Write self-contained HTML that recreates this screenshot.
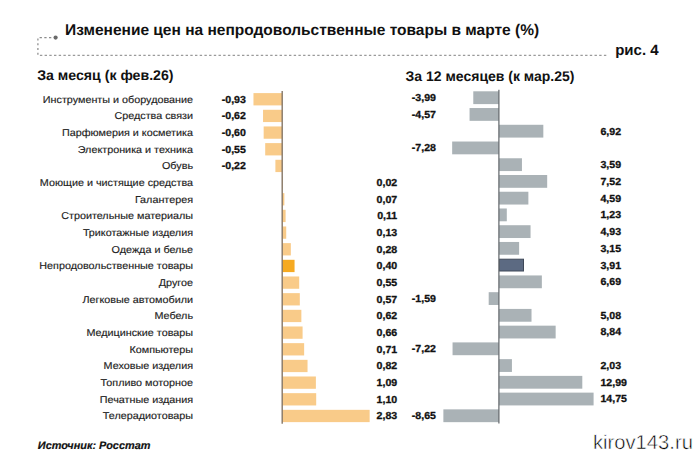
<!DOCTYPE html>
<html><head><meta charset="utf-8"><style>
html,body{margin:0;padding:0;background:#fff;}
body{width:700px;height:456px;overflow:hidden;}
svg{display:block;font-family:"Liberation Sans",sans-serif;text-rendering:geometricPrecision;}
</style></head><body>

<svg width="700" height="456" viewBox="0 0 700 456">
<g stroke="#9a9a9a" stroke-width="1.25" fill="none">
<path d="M39.6 37.6 H52.5" stroke-dasharray="2.3 2.4" stroke="#8c8c8c"/>
<path d="M37.9 38.4 V55.2" stroke-dasharray="2.2 2.55" stroke="#8c8c8c"/>
<path d="M39.9 55.3 H606.7" stroke-dasharray="2.4 2.3"/>
</g>
<circle cx="55.6" cy="37.6" r="2.1" fill="#6a6a6a"/>
<text x="65.0" y="35.4" font-size="15.5" font-weight="bold" fill="#111">Изменение цен на непродовольственные товары в марте (%)</text>
<text x="615.2" y="55.2" font-size="15" font-weight="bold" fill="#111">рис. 4</text>
<text x="37.2" y="80" font-size="14.15" font-weight="bold" fill="#111">За месяц (к фев.26)</text>
<text x="405.6" y="80.6" font-size="14" font-weight="bold" fill="#111">За 12 месяцев (к мар.25)</text>
<text transform="translate(193.00 102.70) scale(1.078 1)" text-anchor="end" font-size="10.0" font-weight="normal" fill="#222" stroke="#222" stroke-width="0.15">Инструменты и оборудование</text>
<rect x="253.46" y="93.10" width="28.74" height="12.3" fill="#f9cb89"/>
<text transform="translate(245.90 102.70) scale(1.04 1)" text-anchor="end" font-size="10.2" font-weight="bold" fill="#111" stroke="#111" stroke-width="0.3">-0,93</text>
<rect x="473.28" y="91.30" width="25.62" height="12.8" fill="#aab2b6"/>
<text transform="translate(411.80 101.10) scale(1.04 1)" text-anchor="start" font-size="10.2" font-weight="bold" fill="#111" stroke="#111" stroke-width="0.3">-3,99</text>
<text transform="translate(193.00 119.37) scale(1.078 1)" text-anchor="end" font-size="10.0" font-weight="normal" fill="#222" stroke="#222" stroke-width="0.15">Средства связи</text>
<rect x="263.04" y="109.77" width="19.16" height="12.3" fill="#f9cb89"/>
<text transform="translate(245.90 119.37) scale(1.04 1)" text-anchor="end" font-size="10.2" font-weight="bold" fill="#111" stroke="#111" stroke-width="0.3">-0,62</text>
<rect x="469.56" y="108.04" width="29.34" height="12.8" fill="#aab2b6"/>
<text transform="translate(411.80 117.84) scale(1.04 1)" text-anchor="start" font-size="10.2" font-weight="bold" fill="#111" stroke="#111" stroke-width="0.3">-4,57</text>
<text transform="translate(193.00 136.04) scale(1.078 1)" text-anchor="end" font-size="10.0" font-weight="normal" fill="#222" stroke="#222" stroke-width="0.15">Парфюмерия и косметика</text>
<rect x="263.66" y="126.44" width="18.54" height="12.3" fill="#f9cb89"/>
<text transform="translate(245.90 136.04) scale(1.04 1)" text-anchor="end" font-size="10.2" font-weight="bold" fill="#111" stroke="#111" stroke-width="0.3">-0,60</text>
<rect x="498.90" y="124.78" width="44.43" height="12.8" fill="#aab2b6"/>
<text transform="translate(600.40 134.58) scale(1.04 1)" text-anchor="start" font-size="10.2" font-weight="bold" fill="#111" stroke="#111" stroke-width="0.3">6,92</text>
<text transform="translate(193.00 152.71) scale(1.078 1)" text-anchor="end" font-size="10.0" font-weight="normal" fill="#222" stroke="#222" stroke-width="0.15">Электроника и техника</text>
<rect x="265.20" y="143.11" width="17.00" height="12.3" fill="#f9cb89"/>
<text transform="translate(245.90 152.71) scale(1.04 1)" text-anchor="end" font-size="10.2" font-weight="bold" fill="#111" stroke="#111" stroke-width="0.3">-0,55</text>
<rect x="452.16" y="141.52" width="46.74" height="12.8" fill="#aab2b6"/>
<text transform="translate(411.80 151.32) scale(1.04 1)" text-anchor="start" font-size="10.2" font-weight="bold" fill="#111" stroke="#111" stroke-width="0.3">-7,28</text>
<text transform="translate(193.00 169.38) scale(1.078 1)" text-anchor="end" font-size="10.0" font-weight="normal" fill="#222" stroke="#222" stroke-width="0.15">Обувь</text>
<rect x="275.40" y="159.78" width="6.80" height="12.3" fill="#f9cb89"/>
<text transform="translate(245.90 169.38) scale(1.04 1)" text-anchor="end" font-size="10.2" font-weight="bold" fill="#111" stroke="#111" stroke-width="0.3">-0,22</text>
<rect x="498.90" y="158.26" width="23.05" height="12.8" fill="#aab2b6"/>
<text transform="translate(600.40 168.06) scale(1.04 1)" text-anchor="start" font-size="10.2" font-weight="bold" fill="#111" stroke="#111" stroke-width="0.3">3,59</text>
<text transform="translate(193.00 186.05) scale(1.078 1)" text-anchor="end" font-size="10.0" font-weight="normal" fill="#222" stroke="#222" stroke-width="0.15">Моющие и чистящие средства</text>
<rect x="282.20" y="176.45" width="0.62" height="12.3" fill="#f9cb89"/>
<text transform="translate(397.20 186.05) scale(1.04 1)" text-anchor="end" font-size="10.2" font-weight="bold" fill="#111" stroke="#111" stroke-width="0.3">0,02</text>
<rect x="498.90" y="175.00" width="48.28" height="12.8" fill="#aab2b6"/>
<text transform="translate(600.40 184.80) scale(1.04 1)" text-anchor="start" font-size="10.2" font-weight="bold" fill="#111" stroke="#111" stroke-width="0.3">7,52</text>
<text transform="translate(193.00 202.72) scale(1.078 1)" text-anchor="end" font-size="10.0" font-weight="normal" fill="#222" stroke="#222" stroke-width="0.15">Галантерея</text>
<rect x="282.20" y="193.12" width="2.16" height="12.3" fill="#f9cb89"/>
<text transform="translate(397.20 202.72) scale(1.04 1)" text-anchor="end" font-size="10.2" font-weight="bold" fill="#111" stroke="#111" stroke-width="0.3">0,07</text>
<rect x="498.90" y="191.74" width="29.47" height="12.8" fill="#aab2b6"/>
<text transform="translate(600.40 201.54) scale(1.04 1)" text-anchor="start" font-size="10.2" font-weight="bold" fill="#111" stroke="#111" stroke-width="0.3">4,59</text>
<text transform="translate(193.00 219.39) scale(1.078 1)" text-anchor="end" font-size="10.0" font-weight="normal" fill="#222" stroke="#222" stroke-width="0.15">Строительные материалы</text>
<rect x="282.20" y="209.79" width="3.40" height="12.3" fill="#f9cb89"/>
<text transform="translate(397.20 219.39) scale(1.04 1)" text-anchor="end" font-size="10.2" font-weight="bold" fill="#111" stroke="#111" stroke-width="0.3">0,11</text>
<rect x="498.90" y="208.48" width="7.90" height="12.8" fill="#aab2b6"/>
<text transform="translate(600.40 218.28) scale(1.04 1)" text-anchor="start" font-size="10.2" font-weight="bold" fill="#111" stroke="#111" stroke-width="0.3">1,23</text>
<text transform="translate(193.00 236.06) scale(1.078 1)" text-anchor="end" font-size="10.0" font-weight="normal" fill="#222" stroke="#222" stroke-width="0.15">Трикотажные изделия</text>
<rect x="282.20" y="226.46" width="4.02" height="12.3" fill="#f9cb89"/>
<text transform="translate(397.20 236.06) scale(1.04 1)" text-anchor="end" font-size="10.2" font-weight="bold" fill="#111" stroke="#111" stroke-width="0.3">0,13</text>
<rect x="498.90" y="225.22" width="31.65" height="12.8" fill="#aab2b6"/>
<text transform="translate(600.40 235.02) scale(1.04 1)" text-anchor="start" font-size="10.2" font-weight="bold" fill="#111" stroke="#111" stroke-width="0.3">4,93</text>
<text transform="translate(193.00 252.73) scale(1.078 1)" text-anchor="end" font-size="10.0" font-weight="normal" fill="#222" stroke="#222" stroke-width="0.15">Одежда и белье</text>
<rect x="282.20" y="243.13" width="8.65" height="12.3" fill="#f9cb89"/>
<text transform="translate(397.20 252.73) scale(1.04 1)" text-anchor="end" font-size="10.2" font-weight="bold" fill="#111" stroke="#111" stroke-width="0.3">0,28</text>
<rect x="498.90" y="241.96" width="20.22" height="12.8" fill="#aab2b6"/>
<text transform="translate(600.40 251.76) scale(1.04 1)" text-anchor="start" font-size="10.2" font-weight="bold" fill="#111" stroke="#111" stroke-width="0.3">3,15</text>
<text transform="translate(193.00 269.40) scale(1.078 1)" text-anchor="end" font-size="10.0" font-weight="normal" fill="#222" stroke="#222" stroke-width="0.15">Непродовольственные товары</text>
<rect x="282.20" y="259.80" width="12.36" height="12.3" fill="#f6aa22"/>
<text transform="translate(397.20 269.40) scale(1.04 1)" text-anchor="end" font-size="10.2" font-weight="bold" fill="#111" stroke="#111" stroke-width="0.3">0,40</text>
<rect x="499.40" y="259.20" width="24.10" height="11.8" fill="#5c6a82" stroke="#3e4858" stroke-width="1"/>
<text transform="translate(600.40 268.50) scale(1.04 1)" text-anchor="start" font-size="10.2" font-weight="bold" fill="#111" stroke="#111" stroke-width="0.3">3,91</text>
<text transform="translate(193.00 286.07) scale(1.078 1)" text-anchor="end" font-size="10.0" font-weight="normal" fill="#222" stroke="#222" stroke-width="0.15">Другое</text>
<rect x="282.20" y="276.47" width="17.00" height="12.3" fill="#f9cb89"/>
<text transform="translate(397.20 286.07) scale(1.04 1)" text-anchor="end" font-size="10.2" font-weight="bold" fill="#111" stroke="#111" stroke-width="0.3">0,55</text>
<rect x="498.90" y="275.44" width="42.95" height="12.8" fill="#aab2b6"/>
<text transform="translate(600.40 285.24) scale(1.04 1)" text-anchor="start" font-size="10.2" font-weight="bold" fill="#111" stroke="#111" stroke-width="0.3">6,69</text>
<text transform="translate(193.00 302.74) scale(1.078 1)" text-anchor="end" font-size="10.0" font-weight="normal" fill="#222" stroke="#222" stroke-width="0.15">Легковые автомобили</text>
<rect x="282.20" y="293.14" width="17.61" height="12.3" fill="#f9cb89"/>
<text transform="translate(397.20 302.74) scale(1.04 1)" text-anchor="end" font-size="10.2" font-weight="bold" fill="#111" stroke="#111" stroke-width="0.3">0,57</text>
<rect x="488.69" y="292.18" width="10.21" height="12.8" fill="#aab2b6"/>
<text transform="translate(411.80 301.98) scale(1.04 1)" text-anchor="start" font-size="10.2" font-weight="bold" fill="#111" stroke="#111" stroke-width="0.3">-1,59</text>
<text transform="translate(193.00 319.41) scale(1.078 1)" text-anchor="end" font-size="10.0" font-weight="normal" fill="#222" stroke="#222" stroke-width="0.15">Мебель</text>
<rect x="282.20" y="309.81" width="19.16" height="12.3" fill="#f9cb89"/>
<text transform="translate(397.20 319.41) scale(1.04 1)" text-anchor="end" font-size="10.2" font-weight="bold" fill="#111" stroke="#111" stroke-width="0.3">0,62</text>
<rect x="498.90" y="308.92" width="32.61" height="12.8" fill="#aab2b6"/>
<text transform="translate(600.40 318.72) scale(1.04 1)" text-anchor="start" font-size="10.2" font-weight="bold" fill="#111" stroke="#111" stroke-width="0.3">5,08</text>
<text transform="translate(193.00 336.08) scale(1.078 1)" text-anchor="end" font-size="10.0" font-weight="normal" fill="#222" stroke="#222" stroke-width="0.15">Медицинские товары</text>
<rect x="282.20" y="326.48" width="20.39" height="12.3" fill="#f9cb89"/>
<text transform="translate(397.20 336.08) scale(1.04 1)" text-anchor="end" font-size="10.2" font-weight="bold" fill="#111" stroke="#111" stroke-width="0.3">0,66</text>
<rect x="498.90" y="325.66" width="56.75" height="12.8" fill="#aab2b6"/>
<text transform="translate(600.40 335.46) scale(1.04 1)" text-anchor="start" font-size="10.2" font-weight="bold" fill="#111" stroke="#111" stroke-width="0.3">8,84</text>
<text transform="translate(193.00 352.75) scale(1.078 1)" text-anchor="end" font-size="10.0" font-weight="normal" fill="#222" stroke="#222" stroke-width="0.15">Компьютеры</text>
<rect x="282.20" y="343.15" width="21.94" height="12.3" fill="#f9cb89"/>
<text transform="translate(397.20 352.75) scale(1.04 1)" text-anchor="end" font-size="10.2" font-weight="bold" fill="#111" stroke="#111" stroke-width="0.3">0,71</text>
<rect x="452.55" y="342.40" width="46.35" height="12.8" fill="#aab2b6"/>
<text transform="translate(411.80 352.20) scale(1.04 1)" text-anchor="start" font-size="10.2" font-weight="bold" fill="#111" stroke="#111" stroke-width="0.3">-7,22</text>
<text transform="translate(193.00 369.42) scale(1.078 1)" text-anchor="end" font-size="10.0" font-weight="normal" fill="#222" stroke="#222" stroke-width="0.15">Меховые изделия</text>
<rect x="282.20" y="359.82" width="25.34" height="12.3" fill="#f9cb89"/>
<text transform="translate(397.20 369.42) scale(1.04 1)" text-anchor="end" font-size="10.2" font-weight="bold" fill="#111" stroke="#111" stroke-width="0.3">0,82</text>
<rect x="498.90" y="359.14" width="13.03" height="12.8" fill="#aab2b6"/>
<text transform="translate(600.40 368.94) scale(1.04 1)" text-anchor="start" font-size="10.2" font-weight="bold" fill="#111" stroke="#111" stroke-width="0.3">2,03</text>
<text transform="translate(193.00 386.09) scale(1.078 1)" text-anchor="end" font-size="10.0" font-weight="normal" fill="#222" stroke="#222" stroke-width="0.15">Топливо моторное</text>
<rect x="282.20" y="376.49" width="33.68" height="12.3" fill="#f9cb89"/>
<text transform="translate(397.20 386.09) scale(1.04 1)" text-anchor="end" font-size="10.2" font-weight="bold" fill="#111" stroke="#111" stroke-width="0.3">1,09</text>
<rect x="498.90" y="375.88" width="83.40" height="12.8" fill="#aab2b6"/>
<text transform="translate(600.40 385.68) scale(1.04 1)" text-anchor="start" font-size="10.2" font-weight="bold" fill="#111" stroke="#111" stroke-width="0.3">12,99</text>
<text transform="translate(193.00 402.76) scale(1.078 1)" text-anchor="end" font-size="10.0" font-weight="normal" fill="#222" stroke="#222" stroke-width="0.15">Печатные издания</text>
<rect x="282.20" y="393.16" width="33.99" height="12.3" fill="#f9cb89"/>
<text transform="translate(397.20 402.76) scale(1.04 1)" text-anchor="end" font-size="10.2" font-weight="bold" fill="#111" stroke="#111" stroke-width="0.3">1,10</text>
<rect x="498.90" y="392.62" width="94.69" height="12.8" fill="#aab2b6"/>
<text transform="translate(600.40 402.42) scale(1.04 1)" text-anchor="start" font-size="10.2" font-weight="bold" fill="#111" stroke="#111" stroke-width="0.3">14,75</text>
<text transform="translate(193.00 419.43) scale(1.078 1)" text-anchor="end" font-size="10.0" font-weight="normal" fill="#222" stroke="#222" stroke-width="0.15">Телерадиотовары</text>
<rect x="282.20" y="409.83" width="87.45" height="12.3" fill="#f9cb89"/>
<text transform="translate(397.20 419.43) scale(1.04 1)" text-anchor="end" font-size="10.2" font-weight="bold" fill="#111" stroke="#111" stroke-width="0.3">2,83</text>
<rect x="443.37" y="409.36" width="55.53" height="12.8" fill="#aab2b6"/>
<text transform="translate(411.80 419.16) scale(1.04 1)" text-anchor="start" font-size="10.2" font-weight="bold" fill="#111" stroke="#111" stroke-width="0.3">-8,65</text>
<line x1="282.2" y1="91" x2="282.2" y2="423.8" stroke="#857767" stroke-width="1.4"/>
<line x1="498.9" y1="89.7" x2="498.9" y2="423.6" stroke="#676b6f" stroke-width="1.25"/>
<text x="37.8" y="449.3" font-size="10.9" font-weight="bold" font-style="italic" fill="#111" stroke="#111" stroke-width="0.2">Источник: Росстат</text>
<text x="593" y="449" font-size="20.2" fill="#000" stroke="#fff" stroke-width="0.55">kirov143.ru</text>
</svg>
</body></html>
